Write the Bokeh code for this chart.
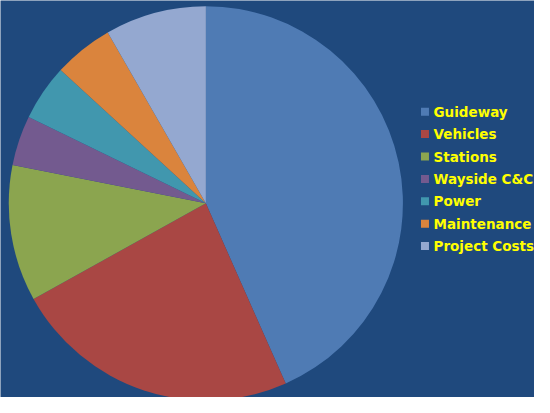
import numpy as np
from bokeh.plotting import figure
from bokeh.models import Range1d, ColumnDataSource
from bokeh.core.properties import value
from bokeh.embed import file_html
from bokeh.resources import INLINE

categories = ["Guideway", "Vehicles", "Stations", "Wayside C&C", "Power", "Maintenance", "Project Costs"]
shares = [43.4, 23.6, 11.2, 4.1, 4.6, 4.9, 8.3]
colors = ["#4F7BB4", "#A94744", "#8BA54F", "#735A8F", "#4197AE", "#DA843D", "#94A8D0"]

BG = "#1F497D"
W, H = 534, 397
sx, sy = W / 550.0, H / 413.0

fracs = np.array(shares) / sum(shares)
cum = np.concatenate([[0], np.cumsum(fracs)])
starts = np.pi / 2 - cum[:-1] * 2 * np.pi
ends = np.pi / 2 - cum[1:] * 2 * np.pi

cx, cy, r = 211.5 * sx, H - 211.0 * sy, 204.0 * (sx + sy) / 2

src = ColumnDataSource(dict(start=starts, end=ends, color=colors, cat=categories))

p = figure(width=W, height=H, output_backend="svg", toolbar_location=None,
           x_range=Range1d(0, W), y_range=Range1d(0, H), min_border=0,
           background_fill_color=BG, border_fill_color=BG, outline_line_color=None)
p.axis.visible = False
p.grid.visible = False

p.wedge(x=cx, y=cy, radius=r, start_angle="start", end_angle="end", direction="clock",
        fill_color="color", line_color=None, source=src)

idx = np.arange(len(categories))
ly = H - (115.7 + idx * 23.3) * sy
n = len(categories)
leg = ColumnDataSource(dict(x=[437.2 * sx] * n, tx=[446.0 * sx] * n,
                            y=ly, color=colors, cat=categories))
p.rect(x="x", y="y", width=8, height=8, fill_color="color", line_color=None, source=leg)
p.text(x="tx", y="y", text="cat", text_color="#FFFF00", text_font=value("DejaVu Sans"),
       text_font_style="bold", text_font_size="13.5px", text_baseline="middle",
       text_align="left", source=leg)

html = file_html(p, INLINE)
html = html.replace("<body>", '<body style="background:%s">' % BG, 1)
open("out.html", "w").write(html)
